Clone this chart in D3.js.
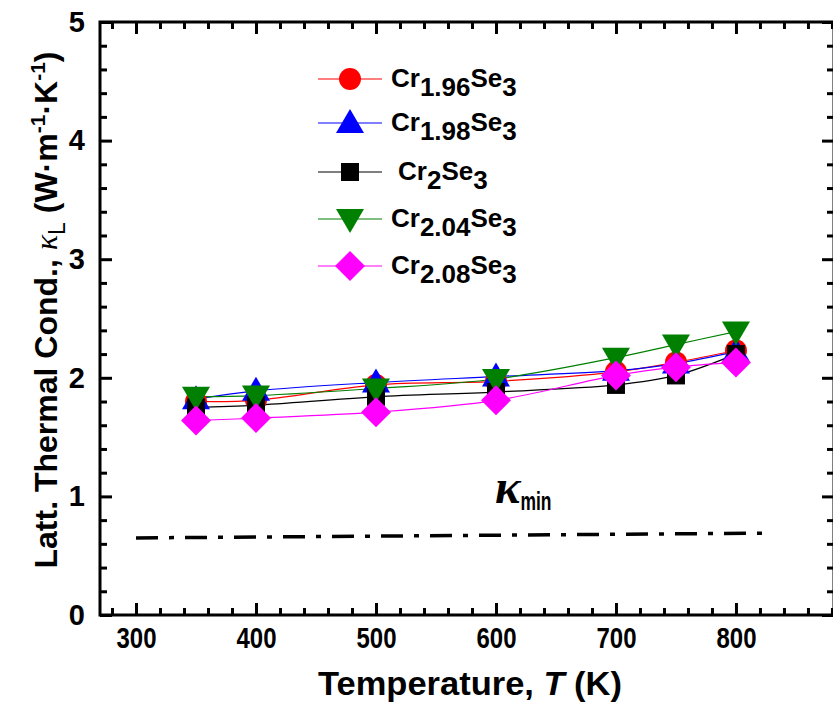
<!DOCTYPE html>
<html>
<head>
<meta charset="utf-8">
<script src="https://cdn.jsdelivr.net/npm/d3@7"></script>
<style>
  body { margin: 0; background: #fff; }
  svg { display: block; }
</style>
</head>
<body>
<svg id="chart" width="833" height="704"></svg>
<script>
// temperatures (K) where the samples were measured
const temps = [350, 400, 500, 600, 700, 750, 800];

// lattice thermal conductivity, W m-1 K-1
const cr196 = [1.80, 1.81, 1.94, 1.97, 2.05, 2.13, 2.23];
const cr198 = [1.82, 1.89, 1.96, 2.01, 2.06, 2.12, 2.22];
const cr200 = [1.75, 1.77, 1.84, 1.88, 1.94, 2.02, 2.20];
const cr204 = [1.84, 1.85, 1.91, 1.99, 2.17, 2.28, 2.39];
const cr208 = [1.64, 1.66, 1.71, 1.81, 2.02, 2.09, 2.13];

const seriesSubs = ["1.96", "1.98", "2", "2.04", "2.08"];
const seriesColors = ["#ff0000", "#0000ff", "#000000", "#008000", "#ff00ff"];
const seriesShapes = ["circle", "triangle", "square", "triangleDown", "diamond"];
const seriesValues = [cr196, cr198, cr200, cr204, cr208];

// kappa_min reference line
const kminT = [300, 825];
const kminVals = [0.65, 0.69];

const xMajor = [300, 400, 500, 600, 700, 800];
const yMajor = [0, 1, 2, 3, 4, 5];

const svg = d3.select("#chart");
const pLeft = 100, pRight = 834, pTop = 22, pBottom = 615;

const x = d3.scaleLinear().domain([270, 881.7]).range([pLeft, pRight]);
const y = d3.scaleLinear().domain([0, 5]).range([pBottom, pTop]);

const xMinor = d3.range(280, 881, 20).filter(v => v % 100 !== 0);
const yMinor = d3.range(0.2, 5, 0.2).map(v => +v.toFixed(1)).filter(v => !Number.isInteger(v));

const font = "'Liberation Sans', Arial, sans-serif";

function styleAxis(g, width) {
  g.select(".domain").remove();
  g.selectAll(".tick line").attr("stroke", "#000").attr("stroke-width", width);
}

// bottom
svg.append("g").attr("transform", `translate(0,${pBottom})`)
  .call(d3.axisBottom(x).tickValues(xMajor).tickSize(-12).tickPadding(12).tickFormat(d3.format("d")))
  .call(g => styleAxis(g, 3))
  .call(g => g.selectAll("text")
    .attr("font-family", font).attr("font-weight", "bold").attr("font-size", 30).attr("fill", "#000")
    .attr("textLength", 40).attr("lengthAdjust", "spacingAndGlyphs"));
svg.append("g").attr("transform", `translate(0,${pBottom})`)
  .call(d3.axisBottom(x).tickValues(xMinor).tickSize(-7).tickFormat(""))
  .call(g => styleAxis(g, 3));

// top
svg.append("g").attr("transform", `translate(0,${pTop})`)
  .call(d3.axisTop(x).tickValues(xMajor).tickSize(-12).tickFormat(""))
  .call(g => styleAxis(g, 3));
svg.append("g").attr("transform", `translate(0,${pTop})`)
  .call(d3.axisTop(x).tickValues(xMinor).tickSize(-7).tickFormat(""))
  .call(g => styleAxis(g, 3));

// left
svg.append("g").attr("transform", `translate(${pLeft},0)`)
  .call(d3.axisLeft(y).tickValues(yMajor).tickSize(-12).tickPadding(15).tickFormat(d3.format("d")))
  .call(g => styleAxis(g, 3))
  .call(g => g.selectAll("text")
    .attr("font-family", font).attr("font-weight", "bold").attr("font-size", 29).attr("fill", "#000"));
svg.append("g").attr("transform", `translate(${pLeft},0)`)
  .call(d3.axisLeft(y).tickValues(yMinor).tickSize(-7).tickFormat(""))
  .call(g => styleAxis(g, 3));

// right
svg.append("g").attr("transform", `translate(${pRight},0)`)
  .call(d3.axisRight(y).tickValues(yMajor).tickSize(-12).tickFormat(""))
  .call(g => styleAxis(g, 3));
svg.append("g").attr("transform", `translate(${pRight},0)`)
  .call(d3.axisRight(y).tickValues(yMinor).tickSize(-7).tickFormat(""))
  .call(g => styleAxis(g, 3));

// frame
svg.append("rect")
  .attr("x", pLeft).attr("y", pTop)
  .attr("width", pRight - pLeft).attr("height", pBottom - pTop)
  .attr("fill", "none").attr("stroke", "#000").attr("stroke-width", 3);

// kappa_min line
svg.append("line")
  .attr("x1", x(kminT[0])).attr("y1", y(kminVals[0]))
  .attr("x2", x(kminT[1])).attr("y2", y(kminVals[1]))
  .attr("stroke", "#000").attr("stroke-width", 3.5)
  .attr("stroke-dasharray", "22,11,5,11");

const kmin = svg.append("text").attr("x", 495).attr("y", 503).attr("fill", "#000");
kmin.append("tspan").text("κ")
  .attr("font-family", "'Liberation Serif', 'Times New Roman', serif")
  .attr("font-style", "italic").attr("font-weight", "bold").attr("font-size", 48);
kmin.append("tspan").text("min").attr("dy", 7)
  .attr("font-family", font).attr("font-weight", "bold").attr("font-size", 26)
  .attr("textLength", 31).attr("lengthAdjust", "spacingAndGlyphs");

// marker shapes
function markerPath(shape) {
  switch (shape) {
    case "circle": return d3.symbol(d3.symbolCircle, 380)();
    case "square": return "M-9,-9H9V9H-9Z";
    case "triangle": return "M0,-14L14,10L-14,10Z";
    case "triangleDown": return "M0,14L14,-10L-14,-10Z";
    case "diamond": return "M0,-15L15,0L0,15L-15,0Z";
  }
}

const line = d3.line()
  .x(d => x(d[0]))
  .y(d => y(d[1]))
  .curve(d3.curveCatmullRom.alpha(0.5));

seriesValues.forEach((vals, i) => {
  const pts = temps.map((t, j) => [t, vals[j]]);
  svg.append("path")
    .datum(pts)
    .attr("d", line)
    .attr("fill", "none")
    .attr("stroke", seriesColors[i])
    .attr("stroke-width", 1.2);
});
seriesValues.forEach((vals, i) => {
  const pts = temps.map((t, j) => [t, vals[j]]);
  svg.append("g").selectAll("path")
    .data(pts)
    .join("path")
    .attr("transform", d => `translate(${x(d[0])},${y(d[1])})`)
    .attr("d", markerPath(seriesShapes[i]))
    .attr("fill", seriesColors[i]);
});

// legend
const legendRows = [79, 123, 172, 219, 266];
seriesSubs.forEach((sub, i) => {
  const g = svg.append("g").attr("transform", `translate(0,${legendRows[i]})`);
  g.append("line").attr("x1", 318).attr("x2", 382).attr("y1", 0).attr("y2", 0)
    .attr("stroke", seriesColors[i]).attr("stroke-width", 1.2);
  g.append("path").attr("transform", "translate(350,0)")
    .attr("d", markerPath(seriesShapes[i])).attr("fill", seriesColors[i]);
  const t = g.append("text")
    .attr("x", sub === "2" ? 398 : 391).attr("y", 8)
    .attr("font-family", font).attr("font-weight", "bold").attr("font-size", 26).attr("fill", "#000");
  t.append("tspan").text("Cr");
  t.append("tspan").text(sub).attr("dy", 9);
  t.append("tspan").text("Se").attr("dy", -9);
  t.append("tspan").text("3").attr("dy", 9);
});

// axis titles
const xt = svg.append("text")
  .attr("x", 470).attr("y", 695).attr("text-anchor", "middle")
  .attr("font-family", font).attr("font-weight", "bold").attr("font-size", 34).attr("fill", "#000")
  .attr("textLength", 304).attr("lengthAdjust", "spacingAndGlyphs");
xt.append("tspan").text("Temperature, ");
xt.append("tspan").text("T").attr("font-style", "italic");
xt.append("tspan").text(" (K)");

const yt = svg.append("text")
  .attr("transform", "translate(57,310) rotate(-90)")
  .attr("text-anchor", "middle")
  .attr("font-family", font).attr("font-weight", "bold").attr("font-size", 32).attr("fill", "#000");
yt.append("tspan").text("Latt. Thermal Cond., ");
yt.append("tspan").text("κ").attr("font-style", "italic").attr("font-weight", "normal")
  .attr("font-family", "'Liberation Serif', serif");
yt.append("tspan").text("L").attr("dy", 8).attr("font-size", 23).attr("font-weight", "normal");
yt.append("tspan").text(" (W·m").attr("dy", -8);
yt.append("tspan").text("-1").attr("dy", -12).attr("font-size", 21);
yt.append("tspan").text("·K").attr("dy", 12);
yt.append("tspan").text("-1").attr("dy", -12).attr("font-size", 21);
yt.append("tspan").text(")").attr("dy", 12);
</script>
</body>
</html>
